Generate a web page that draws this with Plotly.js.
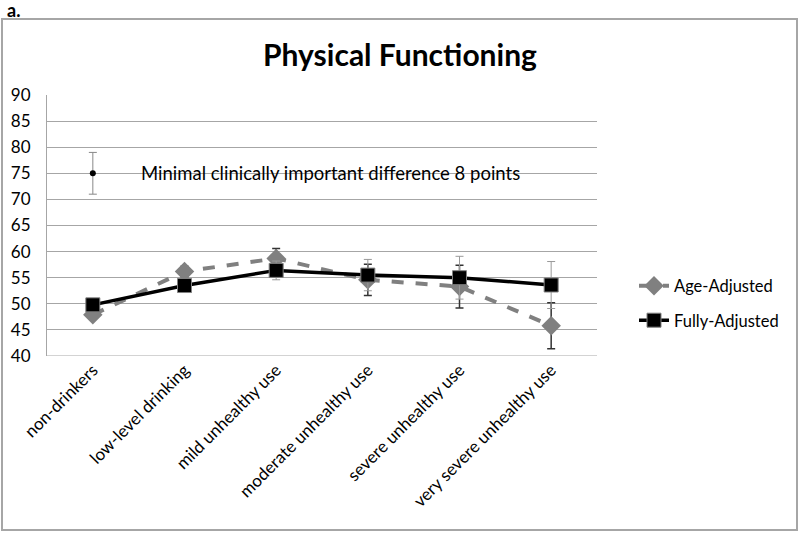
<!DOCTYPE html>
<html>
<head>
<meta charset="utf-8">
<script src="https://cdn.plot.ly/plotly-3.0.1.min.js"></script>
<style>html,body{margin:0;padding:0;background:#fff;}#chart{width:800px;height:533px;}</style>
</head>
<body>
<div id="chart"></div>
<script>
const categories = ["non-drinkers", "low-level drinking", "mild unhealthy use", "moderate unhealthy use", "severe unhealthy use", "very severe unhealthy use"];
const ageAdjusted = [47.9, 56.2, 58.7, 54.6, 53.3, 45.8];
const ageAdjustedErr = [0.8, 1.0, 1.9, 3.0, 4.1, 4.4];
const fullyAdjusted = [49.8, 53.5, 56.4, 55.5, 55.0, 53.6];
const fullyAdjustedErr = [0.6, 1.0, 1.8, 3.0, 4.1, 4.5];
const mcidCategory = ["non-drinkers"];
const mcidValue = [75];
const mcidErr = [4];
const yTicks = [40, 45, 50, 55, 60, 65, 70, 75, 80, 85, 90];

const FONT = "Lato, 'Open Sans', sans-serif";

const traces = [
  {
    x: categories, y: ageAdjusted, name: "Age-Adjusted", type: "scatter", mode: "lines+markers",
    legendgroup: "a",
    line: {color: "#808080", width: 4, dash: "dash"},
    marker: {symbol: "diamond", size: 15, color: "#808080"},
    error_y: {type: "data", array: ageAdjustedErr, visible: true, color: "#333333", thickness: 1.5, width: 4}
  },
  {
    x: categories, y: fullyAdjusted, name: "Fully-Adjusted", type: "scatter", mode: "lines+markers",
    legendgroup: "b",
    line: {color: "#000000", width: 3.5},
    marker: {symbol: "square", size: 14, color: "#000000", line: {color: "#808080", width: 1}},
    error_y: {type: "data", array: fullyAdjustedErr, visible: true, color: "#999999", thickness: 1, width: 4}
  },
  {
    x: mcidCategory, y: mcidValue, type: "scatter", mode: "markers", showlegend: false,
    marker: {size: 6, color: "#000000"},
    error_y: {type: "data", array: mcidErr, visible: true, color: "#888888", thickness: 1, width: 4}
  }
];

const L = 47, R = 597, T = 95, B = 356;
const W = R - L, H = B - T;
const px = v => (v - L) / W;
const py = v => (B - v) / H;

const layout = {
  width: 800, height: 533,
  margin: {l: L, r: 800 - R, t: T, b: 533 - B},
  paper_bgcolor: "#ffffff", plot_bgcolor: "#ffffff",
  font: {family: FONT, size: 16, color: "#000000"},
  title: {text: "<b>Physical Functioning</b>", font: {family: FONT, size: 30, color: "#000"}, x: 0.5, xanchor: "center", y: 1 - 55/533, yanchor: "middle"},
  showlegend: true,
  legend: {x: px(634), y: py(303), xanchor: "left", yanchor: "middle", font: {family: FONT, size: 16.5}, traceorder: "grouped", tracegroupgap: 10, bgcolor: "rgba(0,0,0,0)"},
  xaxis: {
    type: "category", categoryarray: categories, range: [-0.5, 5.5],
    tickangle: -45, showgrid: false, showline: false, ticks: "", zeroline: false,
    tickfont: {family: FONT, size: 17}
  },
  yaxis: {
    range: [40, 90], tickvals: yTicks, ticks: "", showgrid: true, gridcolor: "#a6a6a6", gridwidth: 1,
    showline: true, linecolor: "#a6a6a6", linewidth: 1, zeroline: false,
    tickfont: {family: FONT, size: 17}, ticklabelstandoff: 12
  },
  shapes: [
    {type: "rect", xref: "paper", yref: "paper", x0: px(2), x1: px(797), y0: py(530), y1: py(19), line: {color: "#a6a6a6", width: 2}, fillcolor: "rgba(0,0,0,0)", layer: "below"},
    {type: "rect", xref: "paper", yref: "y", x0: px(96), x1: px(563), y0: 73.5, y1: 76.5, line: {width: 0}, fillcolor: "#ffffff", layer: "between"},
    {type: "line", xref: "paper", yref: "y", x0: 0, x1: 1, y0: 40, y1: 40, line: {color: "#a6a6a6", width: 1}, layer: "between"}
  ],
  annotations: [
    {text: "Minimal clinically important difference 8 points", xref: "paper", yref: "y", x: px(330), y: 75, xanchor: "center", yanchor: "middle", showarrow: false, font: {family: FONT, size: 18.5, color: "#000"}},
    {text: "<b>a.</b>", xref: "paper", yref: "paper", x: px(5), y: py(10), xanchor: "left", yanchor: "middle", showarrow: false, font: {family: FONT, size: 18, color: "#000"}}
  ]
};

Plotly.newPlot("chart", traces, layout, {displayModeBar: false, staticPlot: true});
</script>
</body>
</html>
